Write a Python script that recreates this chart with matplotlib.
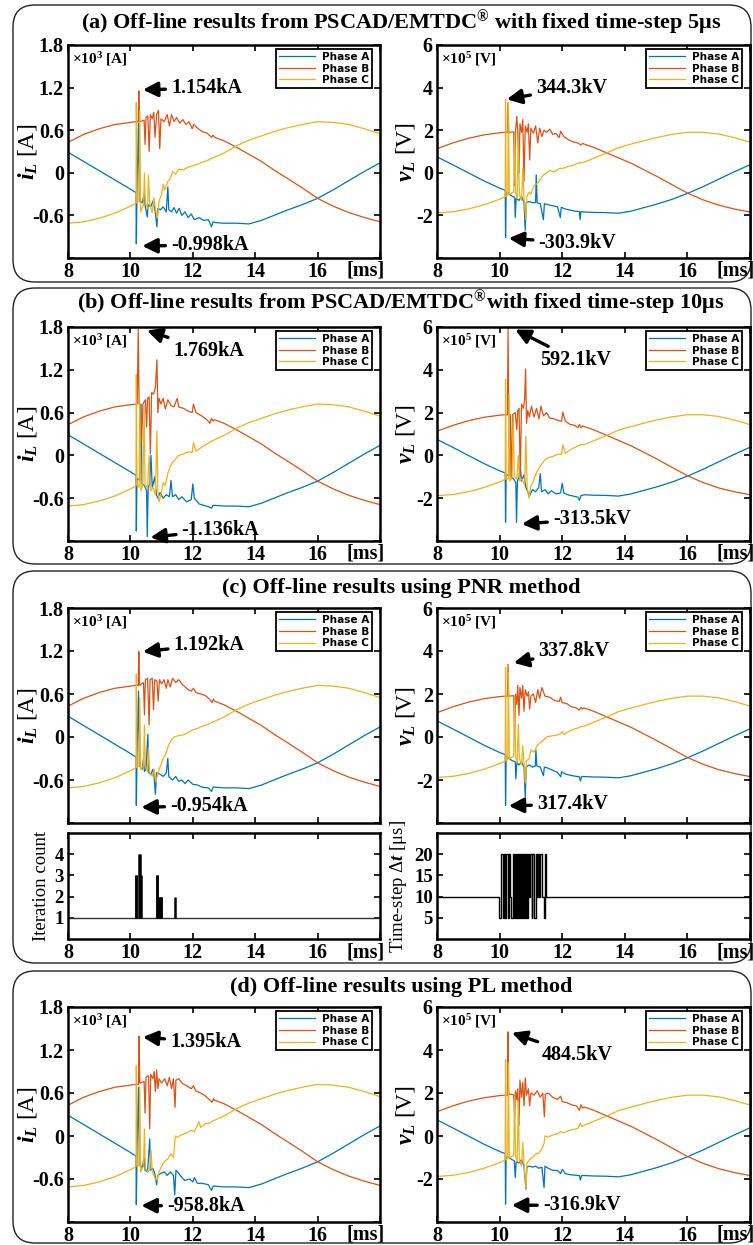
import numpy as np
import matplotlib
matplotlib.use("Agg")
import matplotlib.pyplot as plt
from matplotlib.patches import FancyBboxPatch

plt.rcParams['font.family'] = ['Liberation Serif', 'DejaVu Serif']
plt.rcParams['font.weight'] = 'bold'
plt.rcParams['mathtext.fontset'] = 'custom'
plt.rcParams['mathtext.rm'] = 'Liberation Serif:bold'
plt.rcParams['mathtext.it'] = 'Liberation Serif:italic:bold'
plt.rcParams['mathtext.bf'] = 'Liberation Serif:bold'
plt.rcParams['axes.unicode_minus'] = False

W, H = 753, 1245
COLORS = ['#0072BD', '#D95319', '#EDB120']
PHASES = ['Phase A', 'Phase B', 'Phase C']

# ---------------- steady parts shared by all runs ----------------
T_PRE = [8.0, 8.5, 9.0, 9.5, 10.0]
IA_PRE = [0.29, 0.16, 0.03, -0.10, -0.23]
IB_PRE = [0.43, 0.54, 0.62, 0.68, 0.71]
IC_PRE = [-0.71, -0.69, -0.64, -0.57, -0.47]
VA_PRE = [0.75, 0.38, 0.00, -0.38, -0.72]
VB_PRE = [1.13, 1.40, 1.62, 1.78, 1.88]
VC_PRE = [-1.88, -1.83, -1.70, -1.50, -1.24]

T_TAIL = [12.7, 13.0, 13.4, 13.8, 14.2, 14.6, 15.0, 15.5, 16.0, 16.5, 17.0, 17.5, 18.0]
IA_TAIL = [-0.70, -0.71, -0.71, -0.72, -0.67, -0.60, -0.53, -0.45, -0.36, -0.24, -0.11, 0.02, 0.14]
IB_TAIL = [0.50, 0.45, 0.36, 0.26, 0.16, 0.04, -0.07, -0.21, -0.36, -0.47, -0.56, -0.63, -0.69]
IC_TAIL = [0.22, 0.28, 0.38, 0.46, 0.52, 0.58, 0.63, 0.68, 0.72, 0.71, 0.68, 0.62, 0.55]
VA_TAIL = [-1.84, -1.86, -1.87, -1.90, -1.80, -1.64, -1.48, -1.25, -0.97, -0.65, -0.30, 0.05, 0.38]
VB_TAIL = [1.35, 1.20, 0.95, 0.70, 0.45, 0.15, -0.15, -0.55, -0.95, -1.27, -1.52, -1.70, -1.84]
VC_TAIL = [0.50, 0.68, 0.92, 1.18, 1.35, 1.50, 1.65, 1.80, 1.90, 1.90, 1.82, 1.65, 1.44]

# ---------------- fault transients (t [ms], value) ----------------
# (a) PSCAD 5us
IA_A = [(10.18, -0.28), (10.19, -1.00), (10.21, -0.30), (10.26, 0.70), (10.29, -0.40), (10.38, -0.42),
        (10.44, -0.30), (10.47, -0.46), (10.54, -0.62), (10.57, -0.45), (10.65, -0.48), (10.72, -0.40),
        (10.78, -0.50), (10.85, -0.76), (10.88, -0.50), (10.96, -0.52), (11.05, -0.48), (11.15, -0.55),
        (11.20, -0.20), (11.23, -0.52), (11.32, -0.55), (11.40, -0.49), (11.48, -0.57), (11.56, -0.50),
        (11.65, -0.60), (11.75, -0.55), (11.85, -0.63), (11.95, -0.58), (12.05, -0.66), (12.2, -0.63),
        (12.35, -0.67), (12.5, -0.66), (12.6, -0.76), (12.65, -0.69)]
IB_A = [(10.18, 0.72), (10.25, 0.72), (10.27, 1.154), (10.29, 0.72), (10.44, 0.74), (10.47, 0.40),
        (10.50, 0.78), (10.56, 0.80), (10.60, 0.30), (10.64, 0.82), (10.70, 0.76), (10.75, 0.85),
        (10.79, 0.50), (10.84, 0.82), (10.90, 0.88), (10.94, 0.34), (10.98, 0.76), (11.08, 0.72),
        (11.18, 0.82), (11.25, 0.66), (11.32, 0.82), (11.40, 0.72), (11.48, 0.78), (11.58, 0.70),
        (11.68, 0.75), (11.78, 0.68), (11.88, 0.72), (11.98, 0.62), (12.03, 0.68), (12.15, 0.63),
        (12.3, 0.58), (12.45, 0.56), (12.6, 0.50), (12.65, 0.53)]
IC_A = [(10.18, -0.43), (10.19, 0.99), (10.21, -0.42), (10.28, -0.40), (10.30, 0.87), (10.33, -0.55),
        (10.42, -0.45), (10.45, 0.00), (10.48, -0.42), (10.55, -0.50), (10.58, -0.04), (10.62, -0.45),
        (10.70, -0.56), (10.75, -0.35), (10.80, -0.50), (10.86, -0.64), (10.92, -0.40), (11.00, -0.30),
        (11.05, -0.16), (11.10, -0.24), (11.20, -0.12), (11.28, -0.08), (11.35, 0.02), (11.45, -0.02),
        (11.55, 0.05), (11.70, 0.04), (11.85, 0.08), (12.0, 0.10), (12.15, 0.12), (12.3, 0.15),
        (12.45, 0.17), (12.6, 0.20)]
VA_A = [(10.18, -0.82), (10.19, -3.039), (10.21, -0.90), (10.30, -1.00), (10.40, -1.10), (10.48, -1.15),
        (10.50, -2.10), (10.53, -1.20), (10.62, -1.30), (10.70, -1.10), (10.78, -1.40), (10.82, -2.70),
        (10.85, -1.40), (10.95, -1.35), (11.05, -1.40), (11.15, -1.40), (11.17, -0.10), (11.20, -1.40),
        (11.30, -1.45), (11.40, -2.20), (11.43, -1.45), (11.55, -1.50), (11.7, -1.55), (11.85, -1.60),
        (11.94, -2.10), (11.97, -1.62), (12.1, -1.70), (12.25, -1.75), (12.4, -1.80), (12.55, -1.82),
        (12.57, -2.20), (12.60, -1.82)]
VB_A = [(10.18, 1.90), (10.25, 1.90), (10.27, 3.27), (10.29, 1.90), (10.45, 1.92), (10.48, -0.60),
        (10.51, 2.00), (10.55, 2.65), (10.58, 1.90), (10.62, 0.00), (10.65, 2.30), (10.70, 1.90),
        (10.74, 2.50), (10.78, -0.40), (10.82, 2.20), (10.88, 1.90), (10.92, 2.30), (10.96, 0.60),
        (11.0, 2.10), (11.08, 1.85), (11.15, 2.20), (11.22, 1.40), (11.28, 2.10), (11.35, 1.70),
        (11.42, 2.00), (11.5, 1.90), (11.6, 2.05), (11.7, 1.80), (11.8, 1.85), (11.9, 1.65),
        (11.95, 1.95), (12.05, 1.70), (12.2, 1.55), (12.35, 1.45), (12.5, 1.40), (12.6, 1.30), (12.65, 1.38)]
VC_A = [(10.18, -1.12), (10.19, 3.443), (10.21, -1.10), (10.26, -1.05), (10.28, 3.30), (10.31, -1.00),
        (10.45, -0.90), (10.48, 1.90), (10.51, -0.95), (10.56, -1.20), (10.60, 1.90), (10.63, -1.00),
        (10.70, -1.30), (10.74, 0.20), (10.78, -1.20), (10.84, -2.20), (10.87, -1.10), (10.95, -0.90),
        (11.0, -1.00), (11.1, -0.60), (11.2, -0.50), (11.3, -0.30), (11.4, -0.10), (11.5, 0.00),
        (11.6, 0.10), (11.75, 0.05), (11.9, 0.20), (12.05, 0.22), (12.2, 0.30), (12.35, 0.35),
        (12.5, 0.45), (12.6, 0.48)]

# (b) PSCAD 10us
IA_B = [(10.18, -0.28), (10.19, -1.06), (10.21, -0.32), (10.30, -0.35), (10.34, 0.72), (10.37, -0.40),
        (10.45, -0.42), (10.52, -0.50), (10.54, -1.136), (10.57, -0.45), (10.62, -0.40), (10.66, 0.00),
        (10.70, -0.45), (10.78, -0.30), (10.83, -0.55), (10.88, -0.60), (10.95, -0.52), (11.05, -0.60),
        (11.15, -0.55), (11.25, -0.58), (11.30, -0.35), (11.35, -0.58), (11.45, -0.55), (11.55, -0.62),
        (11.65, -0.58), (11.8, -0.65), (11.95, -0.62), (12.0, -0.40), (12.05, -0.60), (12.2, -0.68),
        (12.35, -0.70), (12.5, -0.72), (12.6, -0.74), (12.65, -0.70)]
IB_B = [(10.18, 0.72), (10.22, 0.72), (10.25, 1.769), (10.28, 0.72), (10.32, 0.70), (10.36, 0.20),
        (10.40, 0.72), (10.48, 0.78), (10.52, 0.40), (10.55, 0.80), (10.60, 0.82), (10.64, 0.02),
        (10.68, 0.88), (10.74, 0.86), (10.80, 0.95), (10.85, 1.34), (10.88, 0.60), (10.92, 0.80),
        (10.98, 0.72), (11.05, 0.80), (11.12, 0.65), (11.2, 0.78), (11.3, 0.70), (11.4, 0.68),
        (11.5, 0.80), (11.55, 0.68), (11.7, 0.66), (11.85, 0.62), (11.98, 0.60), (12.02, 0.72),
        (12.1, 0.60), (12.3, 0.55), (12.45, 0.50), (12.55, 0.45), (12.6, 0.52), (12.65, 0.48)]
IC_B = [(10.18, -0.43), (10.19, 1.14), (10.21, -0.40), (10.28, -0.45), (10.30, 0.72), (10.34, -0.50),
        (10.40, -0.40), (10.44, 0.70), (10.47, -0.42), (10.55, -0.45), (10.60, 0.00), (10.64, -0.50),
        (10.72, -0.45), (10.80, -0.55), (10.85, 0.34), (10.88, -0.50), (10.92, -0.65), (10.98, -0.55),
        (11.05, -0.38), (11.12, -0.42), (11.2, -0.25), (11.28, -0.15), (11.35, -0.10), (11.45, -0.05),
        (11.55, 0.00), (11.7, 0.02), (11.85, 0.05), (11.98, 0.04), (12.02, 0.18), (12.1, 0.06),
        (12.3, 0.12), (12.45, 0.16), (12.6, 0.20)]
VA_B = [(10.18, -0.82), (10.19, -3.12), (10.21, -0.90), (10.30, -0.95), (10.34, 1.90), (10.37, -1.00),
        (10.45, -1.10), (10.52, -1.30), (10.54, -3.135), (10.57, -1.20), (10.62, -1.00), (10.66, -0.50),
        (10.70, -1.20), (10.78, -0.90), (10.84, -1.50), (10.90, -1.70), (10.95, -1.90), (11.05, -1.60),
        (11.15, -1.70), (11.25, -1.50), (11.30, -0.85), (11.34, -1.70), (11.45, -1.60), (11.55, -1.80),
        (11.65, -1.65), (11.8, -1.80), (11.95, -1.75), (12.0, -1.30), (12.05, -1.75), (12.2, -1.85),
        (12.35, -1.90), (12.5, -1.95), (12.55, -2.10), (12.6, -1.88)]
VB_B = [(10.18, 1.90), (10.25, 1.90), (10.27, 5.921), (10.29, 1.90), (10.33, 1.90), (10.37, -1.10),
        (10.41, 1.90), (10.50, 2.00), (10.55, 1.20), (10.58, 2.10), (10.62, 2.20), (10.66, -1.00),
        (10.70, 2.40), (10.76, 2.20), (10.80, 2.60), (10.83, 4.04), (10.86, 1.50), (10.90, 2.10),
        (10.95, 1.80), (11.02, 2.30), (11.1, 1.80), (11.18, 2.20), (11.26, 1.70), (11.32, 2.30),
        (11.4, 1.85), (11.5, 2.00), (11.6, 1.75), (11.75, 1.70), (11.9, 1.62), (11.98, 1.60),
        (12.02, 2.02), (12.1, 1.60), (12.25, 1.45), (12.4, 1.40), (12.5, 1.30), (12.55, 1.45),
        (12.6, 1.30), (12.65, 1.38)]
VC_B = [(10.18, -1.12), (10.19, 3.57), (10.21, -1.10), (10.28, -1.10), (10.30, 2.90), (10.33, -1.20),
        (10.40, -1.00), (10.44, 1.90), (10.47, -1.00), (10.55, -1.10), (10.60, 0.00), (10.64, -1.20),
        (10.72, -1.10), (10.80, -1.40), (10.84, 0.90), (10.88, -1.50), (10.94, -2.00), (11.0, -1.40),
        (11.08, -1.20), (11.15, -0.90), (11.25, -0.60), (11.35, -0.40), (11.45, -0.20), (11.55, -0.10),
        (11.7, -0.05), (11.85, 0.05), (11.98, 0.05), (12.02, 0.50), (12.1, 0.10), (12.3, 0.30),
        (12.45, 0.40), (12.6, 0.50)]

# (c) PNR method
IA_C = [(10.18, -0.28), (10.19, -0.954), (10.21, -0.32), (10.26, 0.64), (10.29, -0.40), (10.38, -0.45),
        (10.42, -0.30), (10.45, -0.48), (10.50, -0.45), (10.56, 0.04), (10.59, -0.50), (10.66, -0.52),
        (10.72, -0.45), (10.76, -0.55), (10.80, -0.80), (10.84, -0.50), (10.95, -0.52), (11.05, -0.55),
        (11.15, -0.50), (11.20, -0.30), (11.23, -0.55), (11.35, -0.60), (11.45, -0.55), (11.55, -0.62),
        (11.65, -0.60), (11.75, -0.65), (11.85, -0.60), (12.0, -0.66), (12.15, -0.67), (12.3, -0.70),
        (12.5, -0.71), (12.6, -0.76), (12.65, -0.70)]
IB_C = [(10.18, 0.72), (10.25, 0.72), (10.27, 1.192), (10.29, 0.72), (10.42, 0.76), (10.45, 0.31),
        (10.48, 0.80), (10.55, 0.82), (10.60, 0.17), (10.63, 0.80), (10.70, 0.82), (10.74, 0.38),
        (10.78, 0.80), (10.85, 0.78), (10.89, 0.50), (10.93, 0.80), (11.0, 0.74), (11.08, 0.80),
        (11.15, 0.68), (11.2, 0.80), (11.28, 0.70), (11.35, 0.82), (11.45, 0.76), (11.55, 0.80),
        (11.65, 0.74), (11.75, 0.70), (11.85, 0.66), (11.95, 0.64), (12.02, 0.68), (12.1, 0.62),
        (12.25, 0.60), (12.4, 0.58), (12.55, 0.52), (12.62, 0.48), (12.66, 0.53)]
IC_C = [(10.18, -0.43), (10.19, 0.88), (10.21, -0.42), (10.28, -0.40), (10.30, 0.55), (10.33, -0.45),
        (10.42, -0.40), (10.45, 0.17), (10.48, -0.42), (10.55, -0.48), (10.58, -0.15), (10.62, -0.50),
        (10.70, -0.55), (10.76, -0.45), (10.82, -0.62), (10.88, -0.50), (10.95, -0.42), (11.05, -0.30),
        (11.12, -0.25), (11.22, -0.12), (11.3, -0.05), (11.4, 0.00), (11.55, 0.02), (11.7, 0.03),
        (11.85, 0.06), (12.0, 0.10), (12.15, 0.12), (12.3, 0.15), (12.45, 0.17), (12.6, 0.20)]
VA_C = [(10.18, -0.82), (10.19, -3.174), (10.21, -0.90), (10.30, -1.00), (10.40, -1.10), (10.50, -1.15),
        (10.52, -1.95), (10.55, -1.20), (10.62, -1.30), (10.70, -1.15), (10.78, -1.40), (10.82, -2.85),
        (10.85, -1.40), (10.95, -1.30), (11.05, -1.40), (11.14, -1.35), (11.16, -0.60), (11.19, -1.35),
        (11.30, -1.40), (11.40, -1.80), (11.43, -1.40), (11.55, -1.45), (11.7, -1.55), (11.85, -1.65),
        (11.95, -1.85), (11.98, -1.62), (12.1, -1.72), (12.25, -1.78), (12.4, -1.82), (12.55, -1.85),
        (12.58, -2.05), (12.62, -1.84)]
VB_C = [(10.18, 1.90), (10.25, 1.90), (10.27, 3.378), (10.29, 1.90), (10.45, 1.92), (10.48, 0.00),
        (10.51, 2.00), (10.55, 1.50), (10.58, 2.40), (10.62, 1.00), (10.65, 2.30), (10.70, 1.80),
        (10.74, 2.40), (10.78, 1.20), (10.82, 2.20), (10.88, 1.90), (10.92, 2.10), (10.96, 1.30),
        (11.0, 1.90), (11.08, 2.00), (11.15, 1.60), (11.22, 2.20), (11.28, 1.80), (11.35, 2.30),
        (11.45, 1.90), (11.6, 1.85), (11.75, 1.70), (11.9, 1.65), (11.95, 1.85), (12.0, 1.60),
        (12.15, 1.55), (12.3, 1.40), (12.45, 1.35), (12.55, 1.25), (12.6, 1.38), (12.65, 1.30)]
VC_C = [(10.18, -1.12), (10.19, 3.24), (10.21, -1.10), (10.26, -1.05), (10.28, 3.00), (10.31, -1.00),
        (10.45, -0.90), (10.48, 1.90), (10.51, -0.95), (10.56, -1.20), (10.60, 0.60), (10.63, -1.00),
        (10.70, -1.30), (10.74, -0.40), (10.78, -1.20), (10.82, -2.15), (10.86, -1.10), (10.95, -1.00),
        (11.0, -0.60), (11.1, -0.70), (11.2, -0.40), (11.3, -0.25), (11.4, -0.15), (11.5, 0.00),
        (11.65, 0.05), (11.8, 0.08), (11.95, 0.15), (12.0, 0.25), (12.05, 0.12), (12.2, 0.25),
        (12.35, 0.35), (12.5, 0.42), (12.6, 0.48)]

# (d) PL method
IA_D = [(10.18, -0.28), (10.19, -0.959), (10.21, -0.32), (10.26, 0.68), (10.29, -0.40), (10.38, -0.44),
        (10.44, -0.30), (10.47, -0.48), (10.55, -0.50), (10.62, -0.04), (10.65, -0.48), (10.72, -0.45),
        (10.78, -0.52), (10.84, -0.68), (10.88, -0.55), (10.98, -0.52), (11.08, -0.50), (11.18, -0.55),
        (11.28, -0.50), (11.38, -0.55), (11.42, -0.82), (11.46, -0.48), (11.55, -0.52), (11.65, -0.58),
        (11.75, -0.62), (11.9, -0.60), (12.0, -0.64), (12.05, -0.58), (12.15, -0.66), (12.3, -0.66),
        (12.5, -0.68), (12.6, -0.76), (12.65, -0.70)]
IB_D = [(10.18, 0.72), (10.26, 0.72), (10.28, 1.395), (10.30, 0.74), (10.44, 0.76), (10.47, 0.32),
        (10.50, 0.82), (10.58, 0.84), (10.62, 0.10), (10.65, 0.86), (10.72, 0.80), (10.76, 0.90),
        (10.80, 0.62), (10.84, 0.92), (10.88, 0.66), (10.92, 0.80), (11.0, 0.74), (11.1, 0.80),
        (11.18, 0.70), (11.25, 0.82), (11.32, 0.66), (11.38, 0.80), (11.43, 0.40), (11.46, 0.78),
        (11.55, 0.80), (11.65, 0.74), (11.8, 0.70), (11.95, 0.66), (12.02, 0.70), (12.1, 0.63),
        (12.25, 0.60), (12.4, 0.56), (12.55, 0.50), (12.62, 0.47), (12.66, 0.52)]
IC_D = [(10.18, -0.43), (10.19, 0.98), (10.21, -0.40), (10.28, -0.42), (10.30, 0.68), (10.33, -0.50),
        (10.42, -0.42), (10.45, 0.10), (10.48, -0.45), (10.55, -0.50), (10.62, -0.48), (10.66, -0.20),
        (10.70, -0.50), (10.78, -0.58), (10.85, -0.62), (10.92, -0.50), (11.0, -0.42), (11.1, -0.35),
        (11.2, -0.32), (11.3, -0.25), (11.38, -0.30), (11.44, 0.00), (11.5, -0.02), (11.65, 0.02),
        (11.8, 0.04), (11.95, 0.08), (12.05, 0.06), (12.2, 0.20), (12.25, 0.12), (12.4, 0.17),
        (12.55, 0.18), (12.6, 0.20)]
VA_D = [(10.18, -0.82), (10.19, -3.169), (10.21, -0.95), (10.30, -1.00), (10.40, -1.10), (10.47, -1.15),
        (10.50, -1.93), (10.53, -1.20), (10.62, -1.25), (10.70, -1.10), (10.78, -1.40), (10.84, -2.48),
        (10.87, -1.45), (10.95, -1.40), (11.05, -1.45), (11.15, -1.40), (11.25, -1.50), (11.35, -1.45),
        (11.42, -2.40), (11.45, -1.40), (11.55, -1.50), (11.7, -1.60), (11.85, -1.60), (11.95, -1.75),
        (12.0, -1.55), (12.1, -1.75), (12.25, -1.80), (12.4, -1.82), (12.55, -1.84), (12.58, -2.05),
        (12.62, -1.84)]
VB_D = [(10.18, 1.90), (10.25, 1.90), (10.27, 4.845), (10.29, 1.95), (10.45, 1.92), (10.48, 0.80),
        (10.51, 2.10), (10.55, 1.70), (10.58, 2.20), (10.62, 0.50), (10.65, 2.60), (10.70, 1.80),
        (10.74, 2.50), (10.78, 1.40), (10.82, 2.70), (10.86, 1.90), (10.92, 2.20), (10.96, 1.40),
        (11.0, 2.00), (11.1, 1.90), (11.2, 2.10), (11.3, 1.80), (11.38, 2.00), (11.43, 0.90),
        (11.46, 1.95), (11.55, 2.00), (11.7, 1.80), (11.85, 1.70), (11.95, 1.85), (12.0, 1.60),
        (12.15, 1.55), (12.3, 1.45), (12.45, 1.40), (12.55, 1.20), (12.6, 1.45), (12.65, 1.30)]
VC_D = [(10.18, -1.12), (10.19, 3.56), (10.21, -1.10), (10.26, -1.05), (10.28, 3.40), (10.31, -1.00),
        (10.45, -0.90), (10.48, 1.95), (10.51, -0.95), (10.56, -1.20), (10.60, 1.60), (10.63, -1.10),
        (10.70, -1.40), (10.74, -0.30), (10.78, -1.30), (10.84, -2.45), (10.87, -1.30), (10.95, -1.10),
        (11.05, -1.00), (11.15, -0.85), (11.25, -0.80), (11.35, -0.60), (11.42, -0.35), (11.45, 0.00),
        (11.55, -0.05), (11.7, 0.05), (11.85, 0.10), (11.95, 0.20), (12.05, 0.15), (12.2, 0.25),
        (12.35, 0.30), (12.5, 0.35), (12.58, 0.60), (12.62, 0.45)]

# PNR solver statistics
ITER_BASE = 1
ITER_T = [10.17, 10.19, 10.28, 10.30, 10.33, 10.84, 10.86, 10.92, 10.94, 10.97, 10.99, 11.43]
ITER_N = [3, 3, 4, 4, 3, 3, 3, 2, 2, 2, 2, 2]
DT_T = [8.0, 9.99, 10.05, 10.10, 10.13, 10.17, 10.21, 10.27, 10.31, 10.34, 10.38, 10.42, 10.46, 10.49,
        10.52, 10.55, 10.59, 10.62, 10.65, 10.67, 10.70, 10.73, 10.76, 10.79, 10.82, 10.84, 10.87, 10.90,
        10.94, 10.97, 11.02, 11.05, 11.09, 11.15, 11.19, 11.23, 11.27, 11.30, 11.34, 11.41, 11.44, 11.47, 18.0]
DT_V = [10, 5, 20, 5, 20, 5, 20, 5, 20, 10, 5, 20, 5, 20, 5, 20, 5, 20, 5, 20, 5, 20, 5, 20, 5, 20, 5, 20,
        10, 20, 5, 20, 5, 20, 10, 20, 10, 20, 10, 5, 20, 10, 10]

# annotations: label, arrow tip (t, value), text anchor (t, value)
NOTES_I = [
    [('1.154kA', 10.40, 1.17, 11.30, 1.19), ('-0.998kA', 10.38, -1.03, 11.30, -1.02)],
    [('1.769kA', 10.53, 1.75, 11.38, 1.47), ('-1.136kA', 10.64, -1.15, 11.64, -1.04)],
    [('1.192kA', 10.40, 1.19, 11.38, 1.29), ('-0.954kA', 10.35, -0.98, 11.27, -0.96)],
    [('1.395kA', 10.40, 1.38, 11.27, 1.31), ('-958.8kA', 10.35, -0.97, 11.17, -0.98)],
]
NOTES_V = [
    [('344.3kV', 10.23, 3.45, 11.16, 4.00), ('-303.9kV', 10.29, -3.07, 11.24, -3.30)],
    [('592.1kV', 10.50, 5.88, 11.30, 4.44), ('-313.5kV', 10.71, -3.21, 11.70, -2.96)],
    [('337.8kV', 10.45, 3.45, 11.24, 4.01), ('317.4kV', 10.29, -3.20, 11.19, -3.13)],
    [('484.5kV', 10.39, 4.80, 11.35, 3.75), ('-316.9kV', 10.39, -3.22, 11.38, -3.22)],
]

TITLES = [
    r'(a) Off-line results from PSCAD/EMTDC$^{\circledR}$ with fixed time-step 5μs',
    r'(b) Off-line results from PSCAD/EMTDC$^{\circledR}$with fixed time-step 10μs',
    '(c) Off-line results using PNR method',
    '(d) Off-line results using PL method',
]
CURRENTS = [(IA_A, IB_A, IC_A), (IA_B, IB_B, IC_B), (IA_C, IB_C, IC_C), (IA_D, IB_D, IC_D)]
VOLTAGES = [(VA_A, VB_A, VC_A), (VA_B, VB_B, VC_B), (VA_C, VB_C, VC_C), (VA_D, VB_D, VC_D)]

# layout in pixels
TITLE_Y = [24, 304, 588, 987]
AX_TOP = [45, 327, 608, 1007]
AX_BOT = [258, 541, 823, 1222]
BOXES = [(5, 282), (288, 564), (571, 963), (971, 1243)]
LEFT_X = (68, 380)
RIGHT_X = (437, 750)
LOWER_C = (833, 939)

XT = [8, 10, 12, 14, 16, 18]
XTL = ['8', '10', '12', '14', '16', '']


def rect(xs, top, bot):
    return [xs[0] / W, 1 - bot / H, (xs[1] - xs[0]) / W, (bot - top) / H]


def style(ax, xlabels=True):
    ax.set_xlim(8, 18)
    ax.set_xticks(XT)
    ax.set_xticklabels(XTL if xlabels else [])
    ax.tick_params(direction='in', length=4, width=1.2, top=True, right=True,
                   labelsize=14.5, pad=3)
    for s in ax.spines.values():
        s.set_linewidth(1.8)
    if xlabels:
        # unit sits in place of the last tick label, pulled inwards so it stays on the page
        ax.annotate('[ms]', xy=(1, 0), xycoords='axes fraction', xytext=(-34, -3),
                    textcoords='offset pixels', ha='left', va='top', fontsize=14.5)


def join(pre, trans, tail):
    tt, vv = zip(*trans)
    return np.r_[T_PRE, tt, T_TAIL], np.r_[pre, vv, tail]


def wave(ax, pres, trans, tails, notes):
    for pre, tr, tail, c, name in zip(pres, trans, tails, COLORS, PHASES):
        t, v = join(pre, tr, tail)
        ax.plot(t, v, color=c, lw=0.9, label=name)
    leg = ax.legend(loc='upper right', bbox_to_anchor=(0.975, 0.982), borderaxespad=0,
                    prop={'family': 'DejaVu Sans', 'weight': 'bold', 'size': 7.6},
                    fancybox=False, edgecolor='k', framealpha=1, handlelength=3.4,
                    handletextpad=0.6, labelspacing=0.15, borderpad=0.3)
    leg.get_frame().set_linewidth(1.3)
    for label, tx, ty, lx, ly in notes:
        ax.annotate(label, xy=(tx, ty), xytext=(lx, ly), ha='left', va='center',
                    fontsize=14.5,
                    arrowprops=dict(arrowstyle='-|>', mutation_scale=22, color='k',
                                    lw=2.4, shrinkA=2, shrinkB=0))


fig = plt.figure(figsize=(W / 100, H / 100), dpi=100)

bg = fig.add_axes([0, 0, 1, 1])
bg.set_xlim(0, W)
bg.set_ylim(H, 0)
bg.axis('off')
for top, bot in BOXES:
    bg.add_patch(FancyBboxPatch((13, top), 738, bot - top,
                                boxstyle='round,pad=0,rounding_size=22',
                                fc='none', ec='#222222', lw=1.0))

for k in range(4):
    fig.text(401 / W, 1 - TITLE_Y[k] / H, TITLES[k], ha='center', va='center', fontsize=16)
    has_x = k != 2

    axi = fig.add_axes(rect(LEFT_X, AX_TOP[k], AX_BOT[k]))
    wave(axi, (IA_PRE, IB_PRE, IC_PRE), CURRENTS[k], (IA_TAIL, IB_TAIL, IC_TAIL), NOTES_I[k])
    style(axi, has_x)
    axi.set_ylim(-1.2, 1.8)
    axi.set_yticks([-1.2, -0.6, 0, 0.6, 1.2, 1.8])
    axi.set_yticklabels(['', '-0.6', '0', '0.6', '1.2', '1.8'])
    axi.set_ylabel('$i_L$ [A]', fontsize=17)
    axi.yaxis.set_label_coords(-0.092, 0.5)
    axi.text(0.012, 0.975, '×10$^{3}$ [A]', transform=axi.transAxes, ha='left', va='top', fontsize=11)

    axv = fig.add_axes(rect(RIGHT_X, AX_TOP[k], AX_BOT[k]))
    wave(axv, (VA_PRE, VB_PRE, VC_PRE), VOLTAGES[k], (VA_TAIL, VB_TAIL, VC_TAIL), NOTES_V[k])
    style(axv, has_x)
    axv.set_ylim(-4, 6)
    axv.set_yticks([-4, -2, 0, 2, 4, 6])
    axv.set_yticklabels(['', '-2', '0', '2', '4', '6'])
    axv.set_ylabel('$v_L$ [V]', fontsize=17)
    axv.yaxis.set_label_coords(-0.064, 0.5)
    axv.text(0.012, 0.975, '×10$^{5}$ [V]', transform=axv.transAxes, ha='left', va='top', fontsize=11)

# iteration count and variable time-step of the PNR run
ax_it = fig.add_axes(rect(LEFT_X, *LOWER_C))
ax_it.axhline(ITER_BASE, color='#333333', lw=1.0)
ax_it.vlines(ITER_T, ITER_BASE, ITER_N, color='k', lw=1.8)
style(ax_it)
ax_it.set_ylim(0, 5)
ax_it.set_yticks([1, 2, 3, 4])
ax_it.tick_params(axis='y', labelsize=13.5)
ax_it.set_ylabel('Iteration count', fontsize=13.5)
ax_it.yaxis.set_label_coords(-0.058, 0.5)

ax_dt = fig.add_axes(rect(RIGHT_X, *LOWER_C))
ax_dt.step(DT_T, DT_V, where='post', color='k', lw=1.0)
style(ax_dt)
ax_dt.set_ylim(0, 25)
ax_dt.set_yticks([5, 10, 15, 20])
ax_dt.tick_params(axis='y', labelsize=13.5)
ax_dt.set_ylabel('Time-step Δ$t$ [μs]', fontsize=13.5)
ax_dt.yaxis.set_label_coords(-0.09, 0.5)

fig.savefig('out.png', dpi=100)
